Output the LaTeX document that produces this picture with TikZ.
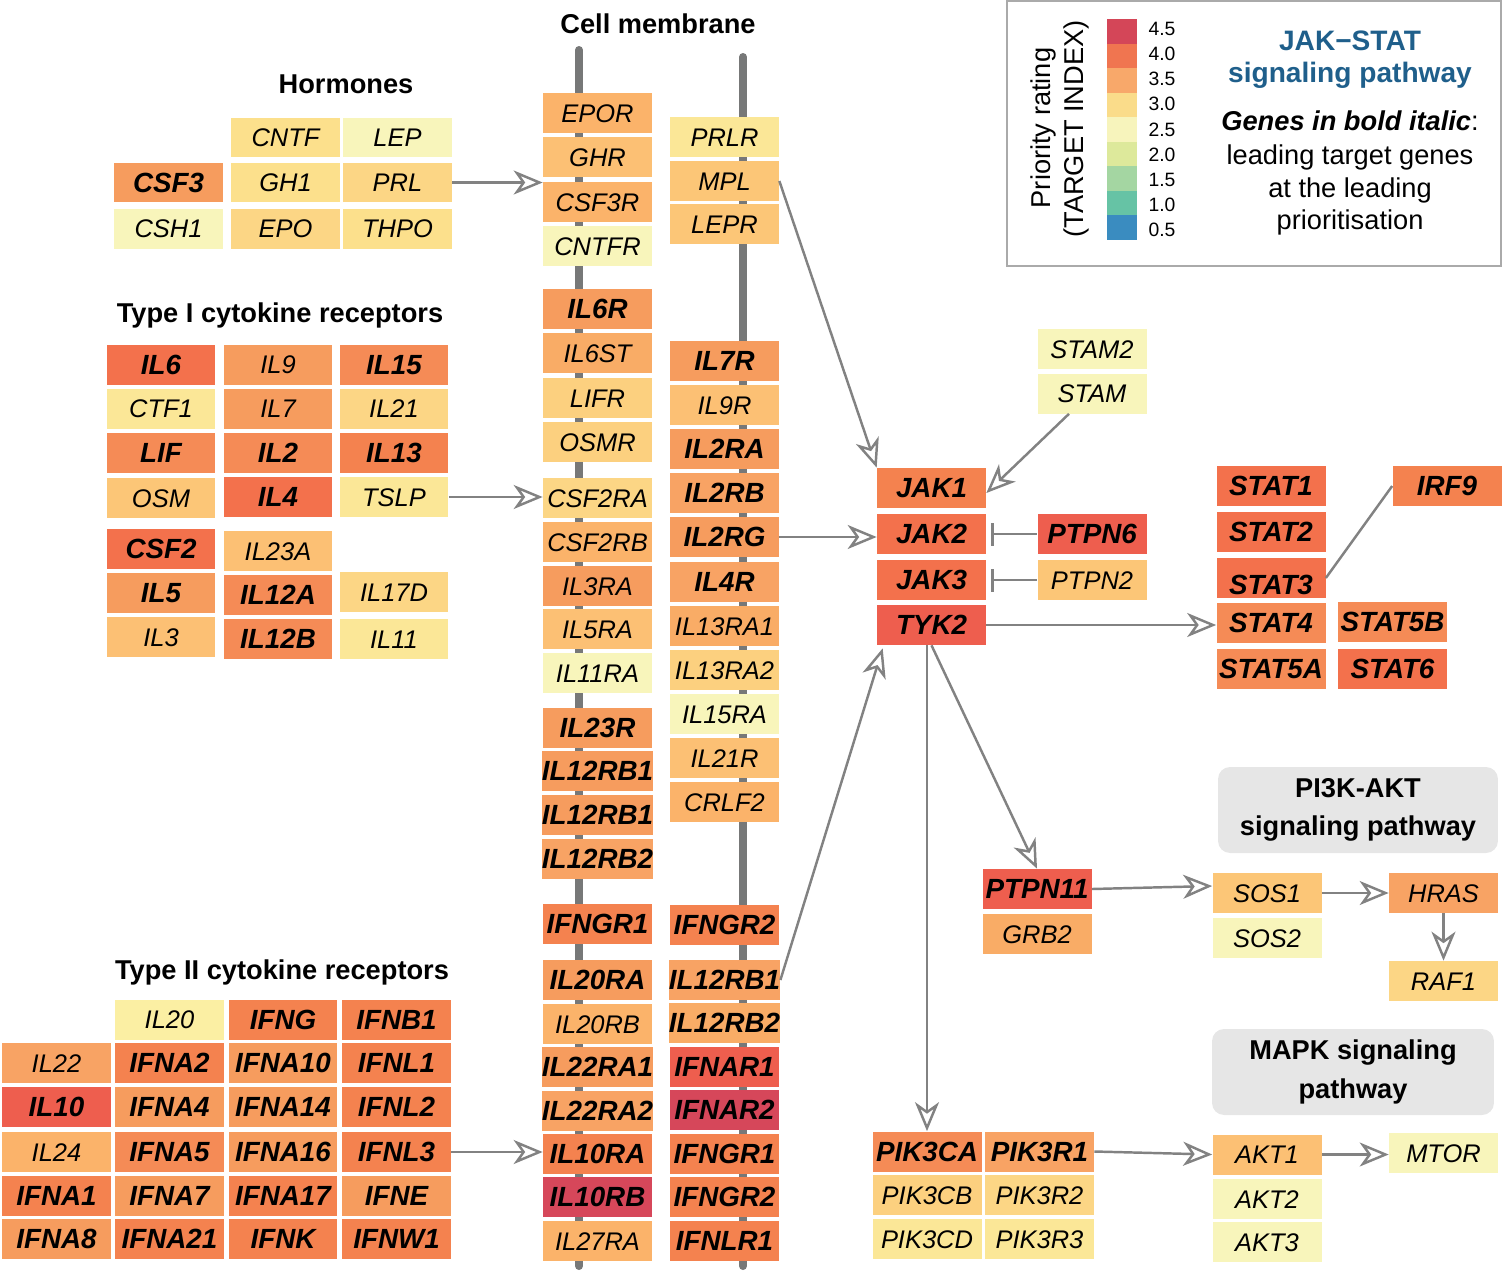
\documentclass[tikz,border=0pt]{standalone}
\usepackage{fontspec}
\setmainfont{Liberation Sans}
\usetikzlibrary{arrows.meta,calc}
\definecolor{kA}{HTML}{D6475A}
\definecolor{kB}{HTML}{EE5E4E}
\definecolor{kC}{HTML}{F3714C}
\definecolor{kD}{HTML}{F4824F}
\definecolor{kE}{HTML}{F58B56}
\definecolor{kF}{HTML}{F69C5E}
\definecolor{kG}{HTML}{F8A364}
\definecolor{kH}{HTML}{F9AC66}
\definecolor{kI}{HTML}{FBB36A}
\definecolor{kJ}{HTML}{FCC074}
\definecolor{kK}{HTML}{FCC677}
\definecolor{kL}{HTML}{FCD07F}
\definecolor{kM}{HTML}{FCD685}
\definecolor{kN}{HTML}{FCE08C}
\definecolor{kO}{HTML}{FBE797}
\definecolor{kP}{HTML}{F8F5BB}
\definecolor{kQ}{HTML}{FBEFA3}
\definecolor{s45}{HTML}{D44658}
\definecolor{s40}{HTML}{F07550}
\definecolor{s35}{HTML}{F8A86A}
\definecolor{s30}{HTML}{FADC8A}
\definecolor{s25}{HTML}{F7F4BC}
\definecolor{s20}{HTML}{DDE99B}
\definecolor{s15}{HTML}{A4D6A2}
\definecolor{s10}{HTML}{66C3A5}
\definecolor{s05}{HTML}{3A8CC0}
\definecolor{linegray}{HTML}{828282}
\definecolor{memgray}{HTML}{777878}
\definecolor{framegray}{HTML}{AAAAAA}
\definecolor{boxgray}{HTML}{E6E6E6}
\definecolor{jsblue}{HTML}{1F5F8B}
\newcommand\genefont{\fontsize{14.5}{16}\selectfont\itshape}
\newcommand\leadfont{\fontsize{15.8}{17}\selectfont\bfseries\itshape}
\newcommand\ttlfont{\fontsize{15.5}{20}\selectfont\bfseries}
\tikzset{
 gene/.style={rectangle, inner sep=0pt, minimum width=2.18cm, minimum height=0.8cm, font=\genefont, text=black, text height=10.4pt, text depth=0pt},
 lead/.style={font=\leadfont, text height=11.3pt},
 conn/.style={draw=linegray, line width=1.4pt, -{Stealth[open, length=0.58cm, width=0.48cm, inset=0.17cm]}},
 inhib/.style={draw=linegray, line width=1.4pt, -{Bar[width=0.46cm]}, shorten >=0.1cm},
 plainline/.style={draw=linegray, line width=1.4pt},
 mem/.style={draw=memgray, line width=0.16cm, line cap=round},
 ttl/.style={font=\ttlfont, inner sep=0pt, text height=11.1pt, text depth=0pt},
 greybox/.style={fill=boxgray, rounded corners=0.24cm, align=center, font=\ttlfont, inner sep=0pt},
 lbl/.style={font=\fontsize{11}{13}\selectfont, inner sep=0pt},
 lgd/.style={font=\fontsize{15.5}{18}\selectfont, inner sep=0pt, text height=11.1pt, text depth=0pt},
}
\begin{document}
\begin{tikzpicture}[x=0.02cm, y=-0.02cm]
\useasboundingbox (0,0) rectangle (1503,1271);
% membranes
\draw[mem] (579,50) -- (579,1266);
\draw[mem] (743,57) -- (743,1266);
% titles
\node[ttl] (tCell) at (658,24) {Cell membrane};
\node[ttl] (tHorm) at (346,84) {Hormones};
\node[ttl] (tT1) at (280,313) {Type I cytokine receptors};
\node[ttl] (tT2) at (282,970) {Type II cytokine receptors};
% hormones
\node[gene,fill=kN] (CNTF) at (285.5,137.5) {CNTF};
\node[gene,fill=kP] (LEP) at (397.5,137.5) {LEP};
\node[gene,fill=kF,lead] (CSF3) at (168.5,182.5) {CSF3};
\node[gene,fill=kN] (GH1) at (285.5,182.5) {GH1};
\node[gene,fill=kM] (PRL) at (397.5,182.5) {PRL};
\node[gene,fill=kP] (CSH1) at (168.5,228.5) {CSH1};
\node[gene,fill=kM] (EPO) at (285.5,228.5) {EPO};
\node[gene,fill=kN] (THPO) at (397.5,228.5) {THPO};
% type I
\node[gene,fill=kC,lead] (IL6) at (161,364.5) {IL6};
\node[gene,fill=kF] (IL9) at (278,364.5) {IL9};
\node[gene,fill=kE,lead] (IL15) at (394,364.5) {IL15};
\node[gene,fill=kO] (CTF1) at (161,408.5) {CTF1};
\node[gene,fill=kF] (IL7) at (278,408.5) {IL7};
\node[gene,fill=kM] (IL21) at (394,408.5) {IL21};
\node[gene,fill=kE,lead] (LIF) at (161,453) {LIF};
\node[gene,fill=kE,lead] (IL2) at (278,453) {IL2};
\node[gene,fill=kD,lead] (IL13) at (394,453) {IL13};
\node[gene,fill=kK] (OSM) at (161,498) {OSM};
\node[gene,fill=kC,lead] (IL4) at (278,497) {IL4};
\node[gene,fill=kO] (TSLP) at (394,497) {TSLP};
\node[gene,fill=kC,lead] (CSF2) at (161,549) {CSF2};
\node[gene,fill=kJ] (IL23A) at (278,551) {IL23A};
\node[gene,fill=kF,lead] (IL5) at (161,593) {IL5};
\node[gene,fill=kE,lead] (IL12A) at (278,595) {IL12A};
\node[gene,fill=kM] (IL17D) at (394,592) {IL17D};
\node[gene,fill=kJ] (IL3) at (161,637) {IL3};
\node[gene,fill=kE,lead] (IL12B) at (278,639) {IL12B};
\node[gene,fill=kO] (IL11) at (394,639) {IL11};
% membrane left column
\node[gene,fill=kI] (EPOR) at (597.5,113) {EPOR};
\node[gene,fill=kJ] (GHR) at (597.5,157) {GHR};
\node[gene,fill=kI] (CSF3R) at (597.5,202) {CSF3R};
\node[gene,fill=kP] (CNTFR) at (597.5,246) {CNTFR};
\node[gene,fill=kF,lead] (IL6R) at (597.5,309) {IL6R};
\node[gene,fill=kH] (IL6ST) at (597.5,353) {IL6ST};
\node[gene,fill=kL] (LIFR) at (597.5,398) {LIFR};
\node[gene,fill=kL] (OSMR) at (597.5,442) {OSMR};
\node[gene,fill=kM] (CSF2RA) at (597.5,498) {CSF2RA};
\node[gene,fill=kI] (CSF2RB) at (597.5,542) {CSF2RB};
\node[gene,fill=kF] (IL3RA) at (597.5,586) {IL3RA};
\node[gene,fill=kJ] (IL5RA) at (597.5,629) {IL5RA};
\node[gene,fill=kP] (IL11RA) at (597.5,673) {IL11RA};
\node[gene,fill=kF,lead] (IL23R) at (597.5,728) {IL23R};
\node[gene,fill=kF,lead] (lIL12RB1a) at (597.5,771) {IL12RB1};
\node[gene,fill=kF,lead] (lIL12RB1b) at (597.5,815) {IL12RB1};
\node[gene,fill=kG,lead] (lIL12RB2) at (597.5,859) {IL12RB2};
\node[gene,fill=kD,lead] (lIFNGR1) at (597.5,924) {IFNGR1};
\node[gene,fill=kF,lead] (IL20RA) at (597.5,980) {IL20RA};
\node[gene,fill=kI] (IL20RB) at (597.5,1024) {IL20RB};
\node[gene,fill=kF,lead] (IL22RA1) at (597.5,1067) {IL22RA1};
\node[gene,fill=kG,lead] (IL22RA2) at (597.5,1111) {IL22RA2};
\node[gene,fill=kD,lead] (IL10RA) at (597.5,1154) {IL10RA};
\node[gene,fill=kA,lead] (IL10RB) at (597.5,1197) {IL10RB};
\node[gene,fill=kI] (IL27RA) at (597.5,1241) {IL27RA};
% membrane right column
\node[gene,fill=kO] (PRLR) at (724.5,137) {PRLR};
\node[gene,fill=kK] (MPL) at (724.5,181) {MPL};
\node[gene,fill=kK] (LEPR) at (724.5,224) {LEPR};
\node[gene,fill=kF,lead] (IL7R) at (724.5,361) {IL7R};
\node[gene,fill=kJ] (IL9R) at (724.5,405) {IL9R};
\node[gene,fill=kF,lead] (IL2RA) at (724.5,449) {IL2RA};
\node[gene,fill=kG,lead] (IL2RB) at (724.5,493) {IL2RB};
\node[gene,fill=kF,lead] (IL2RG) at (724.5,537) {IL2RG};
\node[gene,fill=kG,lead] (IL4R) at (724.5,582) {IL4R};
\node[gene,fill=kH] (IL13RA1) at (724.5,626) {IL13RA1};
\node[gene,fill=kL] (IL13RA2) at (724.5,670) {IL13RA2};
\node[gene,fill=kP] (IL15RA) at (724.5,714) {IL15RA};
\node[gene,fill=kJ] (IL21R) at (724.5,758) {IL21R};
\node[gene,fill=kI] (CRLF2) at (724.5,802) {CRLF2};
\node[gene,fill=kD,lead] (rIFNGR2a) at (724.5,925) {IFNGR2};
\node[gene,fill=kG,lead] (rIL12RB1) at (724.5,980) {IL12RB1};
\node[gene,fill=kH,lead] (rIL12RB2) at (724.5,1023) {IL12RB2};
\node[gene,fill=kB,lead] (IFNAR1) at (724.5,1067) {IFNAR1};
\node[gene,fill=kA,lead] (IFNAR2) at (724.5,1110) {IFNAR2};
\node[gene,fill=kD,lead] (rIFNGR1) at (724.5,1154) {IFNGR1};
\node[gene,fill=kD,lead] (rIFNGR2b) at (724.5,1197) {IFNGR2};
\node[gene,fill=kD,lead] (IFNLR1) at (724.5,1241) {IFNLR1};
% type II
\node[gene,fill=kQ] (IL20) at (169.5,1019.5) {IL20};
\node[gene,fill=kD,lead] (IFNG) at (283,1019.5) {IFNG};
\node[gene,fill=kD,lead] (IFNB1) at (396.5,1019.5) {IFNB1};
\node[gene,fill=kG] (IL22) at (56.5,1063) {IL22};
\node[gene,fill=kD,lead] (IFNA2) at (169.5,1063) {IFNA2};
\node[gene,fill=kF,lead] (IFNA10) at (283,1063) {IFNA10};
\node[gene,fill=kD,lead] (IFNL1) at (396.5,1063) {IFNL1};
\node[gene,fill=kB,lead] (IL10) at (56.5,1107) {IL10};
\node[gene,fill=kF,lead] (IFNA4) at (169.5,1107) {IFNA4};
\node[gene,fill=kF,lead] (IFNA14) at (283,1107) {IFNA14};
\node[gene,fill=kD,lead] (IFNL2) at (396.5,1107) {IFNL2};
\node[gene,fill=kI] (IL24) at (56.5,1152) {IL24};
\node[gene,fill=kE,lead] (IFNA5) at (169.5,1152) {IFNA5};
\node[gene,fill=kF,lead] (IFNA16) at (283,1152) {IFNA16};
\node[gene,fill=kD,lead] (IFNL3) at (396.5,1152) {IFNL3};
\node[gene,fill=kD,lead] (IFNA1) at (56.5,1196) {IFNA1};
\node[gene,fill=kF,lead] (IFNA7) at (169.5,1196) {IFNA7};
\node[gene,fill=kD,lead] (IFNA17) at (283,1196) {IFNA17};
\node[gene,fill=kF,lead] (IFNE) at (396.5,1196) {IFNE};
\node[gene,fill=kF,lead] (IFNA8) at (56.5,1239) {IFNA8};
\node[gene,fill=kD,lead] (IFNA21) at (169.5,1239) {IFNA21};
\node[gene,fill=kD,lead] (IFNK) at (283,1239) {IFNK};
\node[gene,fill=kD,lead] (IFNW1) at (396.5,1239) {IFNW1};
% JAK / STAT area
\node[gene,fill=kP] (STAM2) at (1092,349) {STAM2};
\node[gene,fill=kP] (STAM) at (1092,393.5) {STAM};
\node[gene,fill=kD,lead] (JAK1) at (931.5,488) {JAK1};
\node[gene,fill=kC,lead] (JAK2) at (931.5,534) {JAK2};
\node[gene,fill=kC,lead] (JAK3) at (931.5,580) {JAK3};
\node[gene,fill=kB,lead] (TYK2) at (931.5,625) {TYK2};
\node[gene,fill=kB,lead] (PTPN6) at (1092,534) {PTPN6};
\node[gene,fill=kK] (PTPN2) at (1092,580) {PTPN2};
\node[gene,fill=kC,lead] (STAT1) at (1271,486) {STAT1};
\node[gene,fill=kC,lead] (STAT2) at (1271,532) {STAT2};
\node[gene,fill=kC,lead] (STAT3) at (1271,578) {\raisebox{-0.14cm}{STAT3}};
\node[gene,fill=kE,lead] (STAT4) at (1271,623) {STAT4};
\node[gene,fill=kE,lead] (STAT5A) at (1271,669) {STAT5A};
\node[gene,fill=kE,lead] (STAT5B) at (1392.5,622) {STAT5B};
\node[gene,fill=kC,lead] (STAT6) at (1392.5,669) {STAT6};
\node[gene,fill=kD,lead] (IRF9) at (1447,486) {IRF9};
% PI3K / MAPK
\node[greybox, minimum width=5.6cm, minimum height=1.72cm] (PIbox) at (1358,810) {PI3K-AKT\\[2pt]signaling pathway};
\node[greybox, minimum width=5.64cm, minimum height=1.72cm] (MAPKbox) at (1353,1072) {MAPK signaling\\[2pt]pathway};
\node[gene,fill=kB,lead] (PTPN11) at (1037,889) {PTPN11};
\node[gene,fill=kH] (GRB2) at (1037,934) {GRB2};
\node[gene,fill=kK] (SOS1) at (1267,893) {SOS1};
\node[gene,fill=kP] (SOS2) at (1267,938) {SOS2};
\node[gene,fill=kG] (HRAS) at (1443.5,893) {HRAS};
\node[gene,fill=kM] (RAF1) at (1443.5,981) {RAF1};
\node[gene,fill=kE,lead] (PIK3CA) at (927,1151.5) {PIK3CA};
\node[gene,fill=kG,lead] (PIK3R1) at (1039.5,1151.5) {PIK3R1};
\node[gene,fill=kL] (PIK3CB) at (927,1195) {PIK3CB};
\node[gene,fill=kM] (PIK3R2) at (1039.5,1195) {PIK3R2};
\node[gene,fill=kO] (PIK3CD) at (927,1239) {PIK3CD};
\node[gene,fill=kO] (PIK3R3) at (1039.5,1239) {PIK3R3};
\node[gene,fill=kJ] (AKT1) at (1267,1154.5) {AKT1};
\node[gene,fill=kP] (AKT2) at (1267,1199) {AKT2};
\node[gene,fill=kP] (AKT3) at (1267,1242) {AKT3};
\node[gene,fill=kP] (MTOR) at (1443.5,1153) {MTOR};
% connectors
\draw[conn] (PRL.east) -- (PRL.east -| CSF3R.west);
\draw[conn] (TSLP.east) -- (TSLP.east -| CSF2RA.west);
\draw[conn] (IFNL3.east) -- (IFNL3.east -| IL10RA.west);
\draw[conn] (MPL.east) -- (JAK1.north west);
\draw[conn] (IL2RG.east) -- (IL2RG.east -| JAK2.west);
\draw[conn] (rIL12RB1.east) -- ([xshift=0.12cm,yshift=-0.06cm]TYK2.south west);
\draw[conn] ($(STAM.south west)!0.29!(STAM.south east)$) -- ([yshift=-0.1cm]JAK1.east);
\draw[inhib] (PTPN6.west) -- (PTPN6.west -| JAK2.east);
\draw[inhib] (PTPN2.west) -- (PTPN2.west -| JAK3.east);
\draw[conn] (TYK2.east) -- (TYK2.east -| STAT4.west);
\draw[plainline] (IRF9.west) -- (STAT3.east);
\draw[conn] (TYK2.south -| PIK3CA.north) -- (PIK3CA.north);
\draw[conn] (TYK2.south) -- (PTPN11.north);
\draw[conn] (PTPN11.east) -- ([yshift=0.14cm]SOS1.west);
\draw[conn] (SOS1.east) -- (HRAS.west);
\draw[conn] (HRAS.south) -- (RAF1.north);
\draw[conn] (PIK3R1.east) -- (AKT1.west);
\draw[conn] (AKT1.east) -- (AKT1.east -| MTOR.west);
% legend
\draw[draw=framegray, line width=1.1pt] (1007,1) rectangle (1501,266);
\foreach \c [count=\i from 0] in {s45,s40,s35,s30,s25,s20,s15,s10,s05}
  \fill[\c] (1107,19+\i*24.56) rectangle (1137,19+\i*24.56+24.6);
\foreach \t [count=\i from 0] in {4.5,4.0,3.5,3.0,2.5,2.0,1.5,1.0,0.5}
  \node[lbl] at (1162,29+\i*25.1) {\t};
\node[lgd, rotate=90, text height=10.2pt] (prio) at (1042,128) {Priority rating};
\node[lgd, rotate=90] (tidx) at (1074,129) {(TARGET INDEX)};
\node[ttl, text=jsblue, font=\fontsize{16}{18}\selectfont\bfseries] (js1) at (1350,41) {JAK−STAT};
\node[ttl, text=jsblue, font=\fontsize{16}{18}\selectfont\bfseries] (js2) at (1350,73) {signaling pathway};
\node[lgd] (lg1) at (1350,121) {\textbf{\textit{Genes in bold italic}}:};
\node[lgd] (lg2) at (1350,155) {leading target genes};
\node[lgd] (lg3) at (1350,188) {at the leading};
\node[lgd] (lg4) at (1350,220) {prioritisation};
\end{tikzpicture}
\end{document}
